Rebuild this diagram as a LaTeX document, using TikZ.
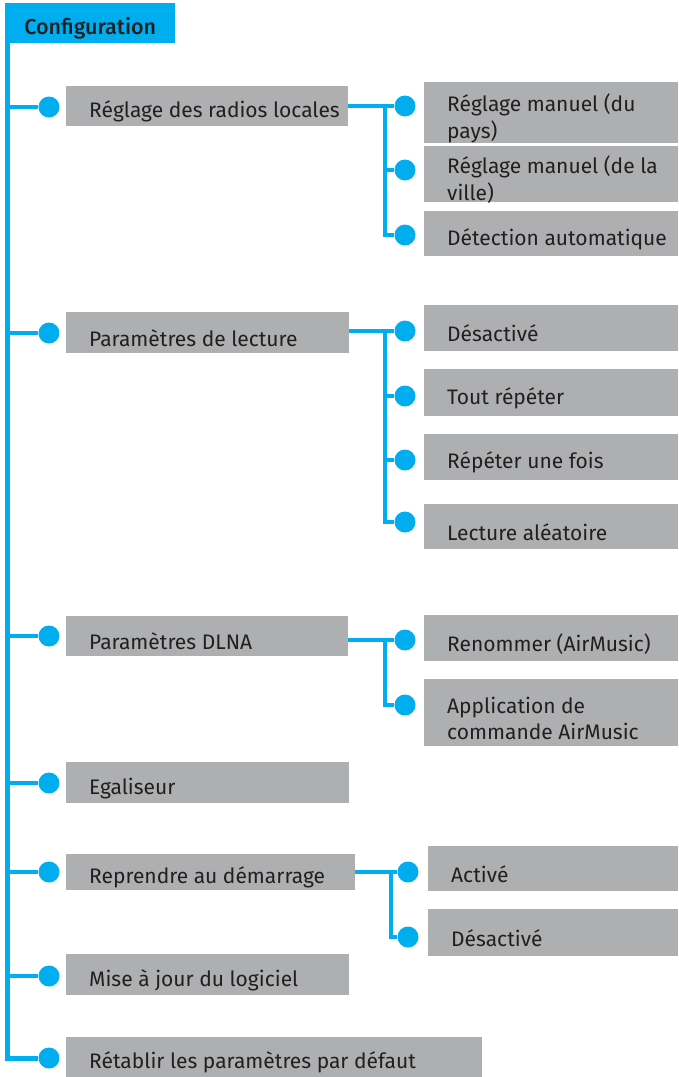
\documentclass[tikz,border=0pt]{standalone}
\usepackage{fontspec}
\setmainfont{Fira Sans}
\newfontfamily\medfont{Fira Sans Medium}
\definecolor{bblue}{HTML}{00AEEF}
\definecolor{bgray}{HTML}{ADAFB0}
\definecolor{tdark}{HTML}{231F20}
\begin{document}
\begin{tikzpicture}[x=1pt,y=-1pt,
  lvbox/.style={fill=bgray, anchor=north west, inner sep=0pt},
  txt/.style={text=tdark, anchor=west, inner sep=0pt, align=left, xshift=23pt, yshift=-5.5pt,
    font=\fontsize{21}{26.5}\selectfont},
  dot/.style={circle, fill=bblue, inner sep=0pt, minimum size=21pt},
  trunk/.style={draw=bblue, line width=5pt},
  branch/.style={draw=bblue, line width=4.5pt}]
\useasboundingbox (0,0) rectangle (678,1077);
% header
\node[fill=bblue, anchor=north west, inner sep=0pt, minimum width=170pt, minimum height=40pt] (cfg) at (5,3) {};
\node[text=tdark, inner sep=0pt, yshift=-5pt, font=\fontsize{21.5}{25}\medfont] (cfgt) at (cfg.center) {Configuration};
\newcommand{\bx}[6]{\node[lvbox, minimum width=#4pt-#2pt, minimum height=#5pt-#3pt] (#1) at (#2,#3) {};
  \node[txt] (#1t) at (#1.west) {#6};}
% level 1
\bx{b1}{66}{86}{348}{126}{Réglage des radios locales}
\bx{b2}{66}{312}{349}{353}{Paramètres de lecture}
\bx{b3}{66}{616}{348}{656}{Paramètres DLNA}
\bx{b4}{66}{762}{349}{803}{Egaliseur}
\bx{b5}{66}{854}{355}{890}{Reprendre au démarrage}
\bx{b6}{66}{954}{349}{995}{Mise à jour du logiciel}
\bx{b7}{66}{1037}{482}{1077}{Rétablir les paramètres par défaut}
% level 2
\bx{s11}{424}{82}{678}{143}{Réglage manuel (du\\pays)}
\bx{s12}{424}{146}{678}{202}{Réglage manuel (de la\\ville)}
\bx{s13}{424}{211}{678}{256}{Détection automatique}
\bx{s21}{424}{305}{678}{351}{Désactivé}
\bx{s22}{424}{369}{678}{416}{Tout répéter}
\bx{s23}{424}{434}{678}{480}{Répéter une fois}
\bx{s24}{424}{504}{678}{549}{Lecture aléatoire}
\bx{s31}{424}{615}{678}{661}{Renommer (AirMusic)}
\bx{s32}{424}{679}{678}{746}{Application de\\commande AirMusic}
\bx{s51}{428}{846}{678}{891}{Activé}
\bx{s52}{428}{909}{678}{956}{Désactivé}
% trunk
\coordinate (tt) at (7.5,43);
\foreach \n/\y in {1/107,2/333,3/636,4/783,5/872,6/976,7/1058}{
  \node[dot] (d\n) at (49,\y) {};
}
\draw[trunk] (tt) |- (d7);
\foreach \n in {1,...,6}{ \draw[branch] (tt |- d\n) -- (d\n); }
% level-2 dots
\foreach \n/\x/\y in {11/405/106,12/405/170,13/405/235,21/405/331,22/405/396,23/405/460,24/405/522,31/405/640,32/405/705,51/408/872,52/408/937}{
  \node[dot] (e\n) at (\x,\y) {};
}
\coordinate (j1) at (385,0);
\coordinate (j5) at (391,0);
\draw[branch] (b1.east |- e11) -- (e11);
\draw[branch] (j1 |- e11) |- (e13);
\draw[branch] (j1 |- e12) -- (e12);
\draw[branch] (b2.east |- e21) -- (e21);
\draw[branch] (j1 |- e21) |- (e24);
\draw[branch] (j1 |- e22) -- (e22);
\draw[branch] (j1 |- e23) -- (e23);
\draw[branch] (b3.east |- e31) -- (e31);
\draw[branch] (j1 |- e31) |- (e32);
\draw[branch] (b5.east |- e51) -- (e51);
\draw[branch] (j5 |- e51) |- (e52);
\end{tikzpicture}
\end{document}
